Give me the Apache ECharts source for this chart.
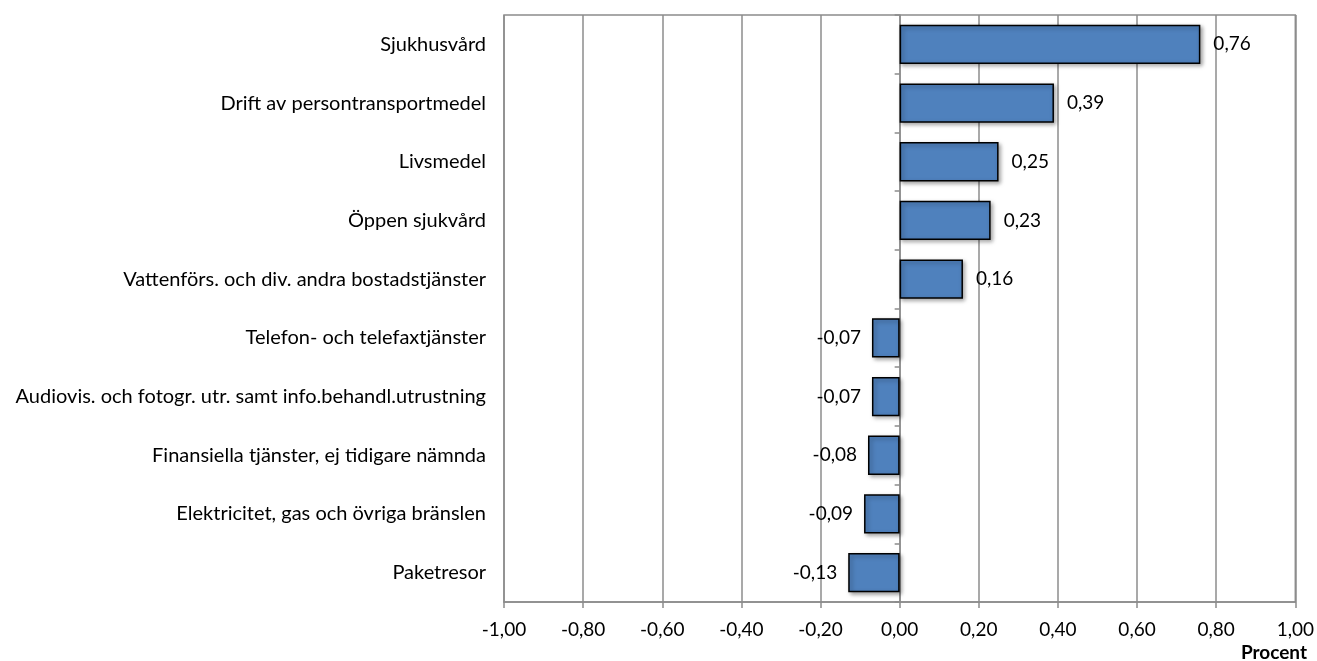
<!DOCTYPE html>
<html><head><meta charset="utf-8">
<script src="https://cdn.jsdelivr.net/npm/echarts@6/dist/echarts.min.js"></script>
<style>html,body{margin:0;padding:0;background:#fff}#c{width:1317px;height:661px}</style>
</head><body><div id="c"></div>
<script>
const categories = [
  "Sjukhusvård",
  "Drift av persontransportmedel",
  "Livsmedel",
  "Öppen sjukvård",
  "Vattenförs. och div. andra bostadstjänster",
  "Telefon- och telefaxtjänster",
  "Audiovis. och fotogr. utr. samt info.behandl.utrustning",
  "Finansiella tjänster, ej tidigare nämnda",
  "Elektricitet, gas och övriga bränslen",
  "Paketresor"
];
const values = [0.76, 0.39, 0.25, 0.23, 0.16, -0.07, -0.07, -0.08, -0.09, -0.13];
const axisTitle = "Procent";

const fmt = v => v.toFixed(2).replace('.', ',');
const font = 'Lato, "Open Sans", sans-serif';
const chart = echarts.init(document.getElementById('c'));
chart.setOption({
  animation: false,
  grid: { left: 504, right: 18, top: 15, bottom: 59, show: true, borderColor: '#8c8c8c', borderWidth: 1.5 },
  xAxis: {
    type: 'value', min: -1, max: 1, interval: 0.2,
    axisLine: { show: true, onZero: false, lineStyle: { color: '#8c8c8c', width: 1.5 } },
    axisTick: { show: true, length: 6, lineStyle: { color: '#8c8c8c', width: 1.5 } },
    splitLine: { show: true, lineStyle: { color: '#8c8c8c', width: 1.5 } },
    axisLabel: { formatter: v => fmt(v), color: '#000', fontSize: 19, fontFamily: font, margin: 18 }
  },
  yAxis: [
    {
      type: 'category', data: categories, inverse: true,
      axisLine: { show: false, onZero: false }, axisTick: { show: false },
      axisLabel: { color: '#000', fontSize: 20, fontFamily: font, margin: 18 }
    },
    {
      type: 'category', data: categories, inverse: true, position: 'left',
      axisLine: { show: true, onZero: true, lineStyle: { color: '#8c8c8c', width: 1.5 } },
      axisTick: { show: true, length: 5, lineStyle: { color: '#8c8c8c', width: 1.5 } },
      axisLabel: { show: false }
    }
  ],
  series: [{
    type: 'bar',
    data: values.map(v => ({
      value: v,
      label: { position: v >= 0 ? 'right' : 'left', distance: v >= 0 ? 13 : 11 }
    })),
    barCategoryGap: '33%',
    itemStyle: {
      color: '#4f81bd', borderColor: '#000', borderWidth: 1.5,
      shadowBlur: 4, shadowOffsetX: 2, shadowOffsetY: 2, shadowColor: 'rgba(0,0,0,0.35)'
    },
    label: { show: true, formatter: p => fmt(p.value), color: '#000', fontSize: 19, fontFamily: font }
  }],
  graphic: [{
    type: 'text', right: 10, top: 643,
    style: { text: axisTitle, font: 'bold 19px ' + font, fill: '#000' }
  }]
});
</script></body></html>
